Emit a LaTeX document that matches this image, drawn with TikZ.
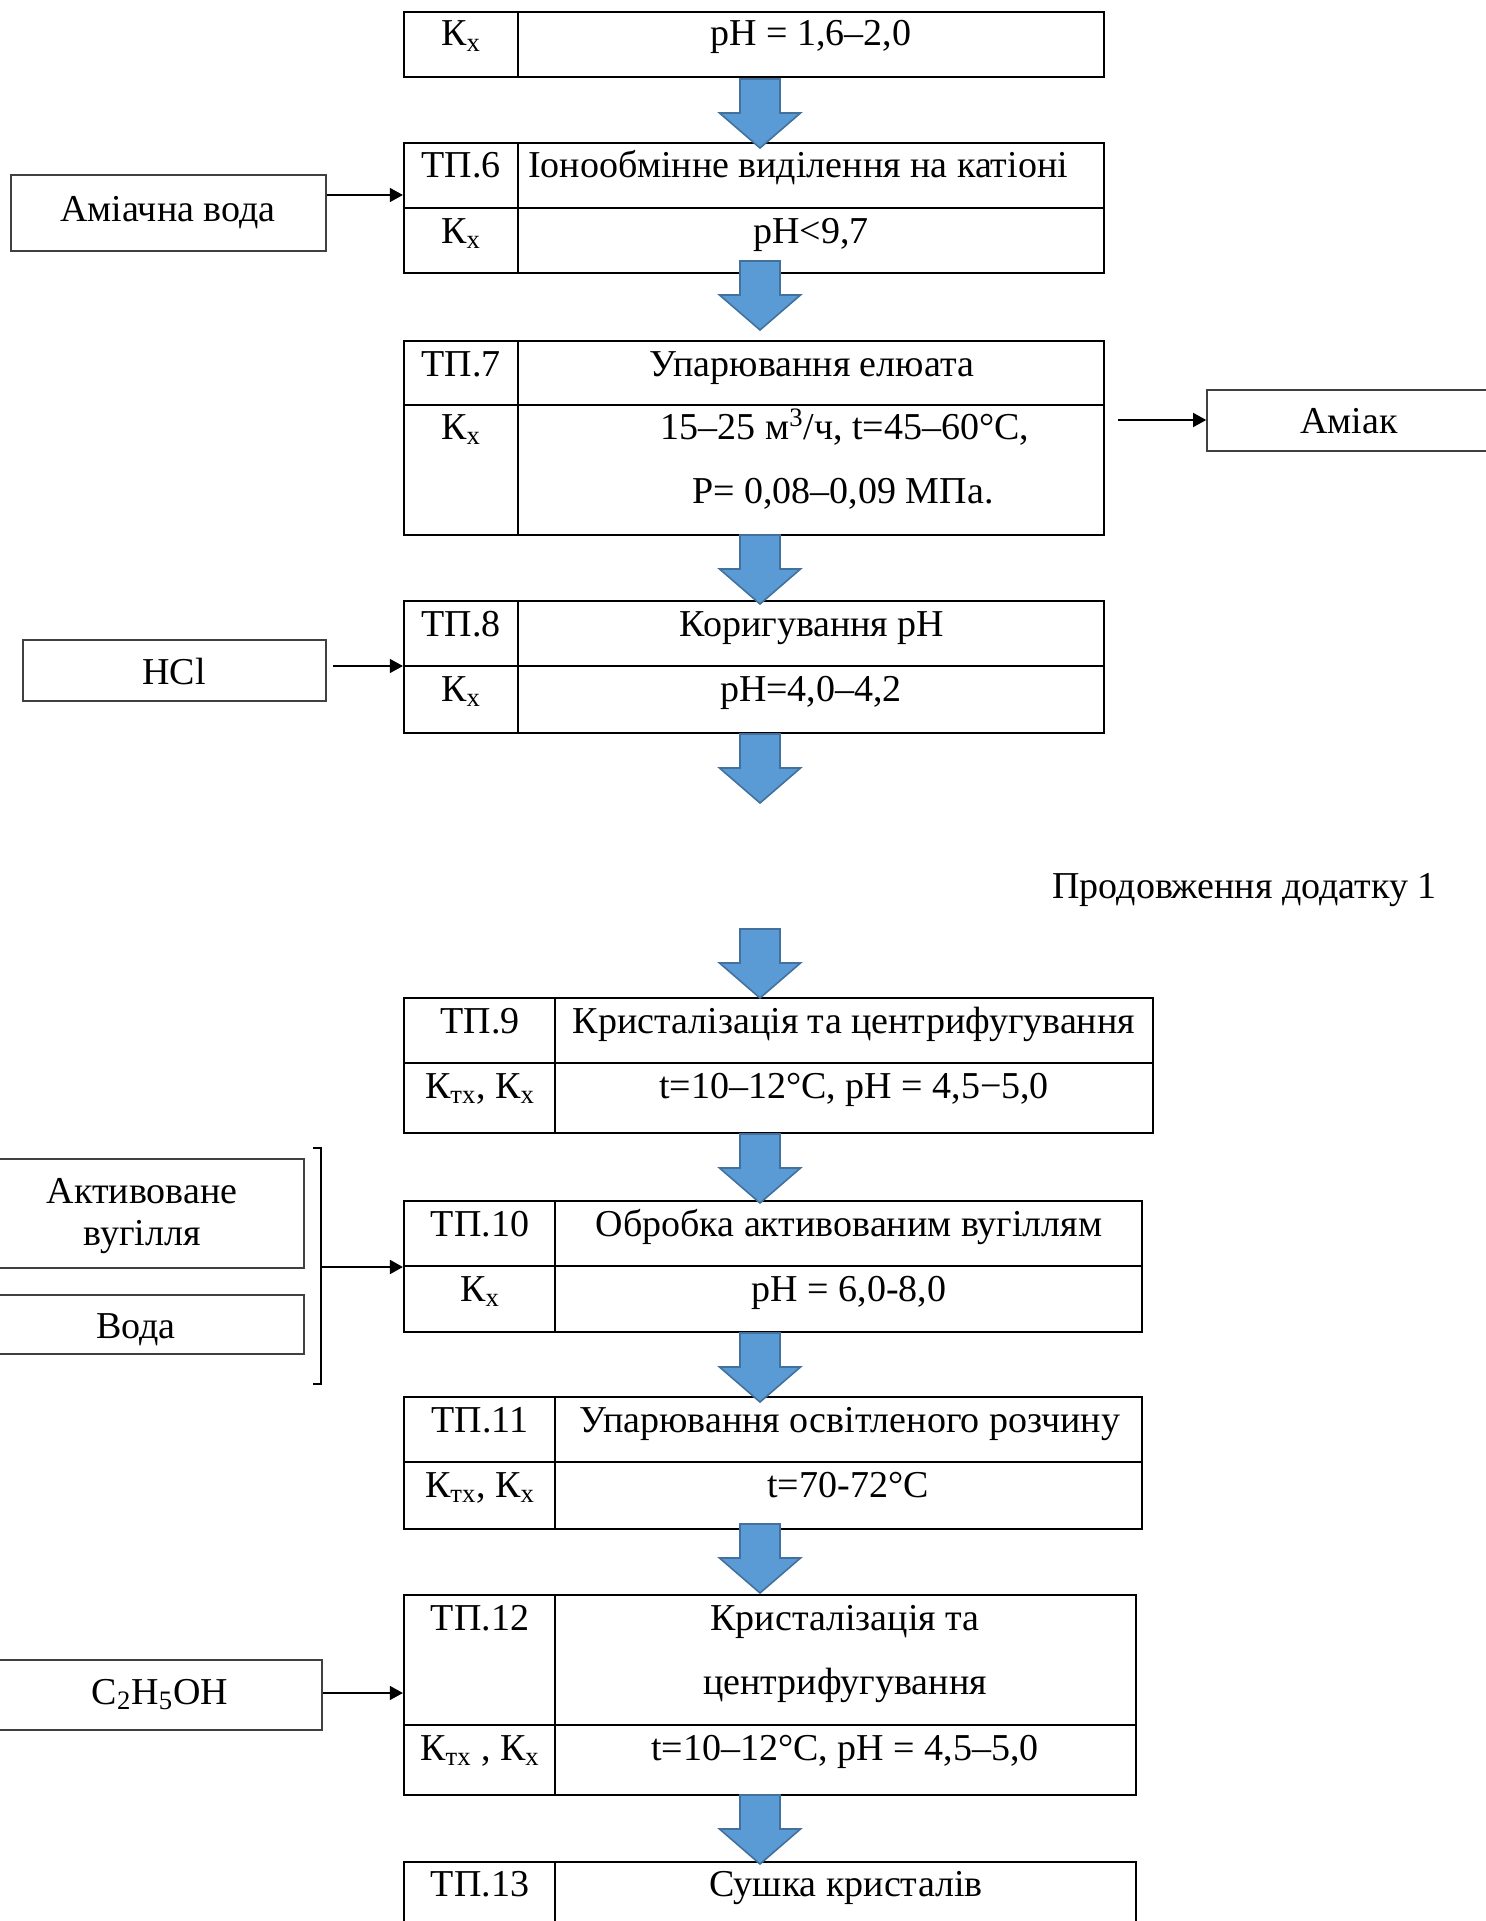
\documentclass[tikz,border=0pt]{standalone}
\usepackage{fontspec}
\setmainfont{Liberation Serif}
\usetikzlibrary{arrows.meta,calc,fit}
\definecolor{arrfill}{RGB}{91,155,213}
\definecolor{arrline}{RGB}{65,113,156}
\begin{document}
\begin{tikzpicture}[x=0.5pt,y=-0.5pt,
  tbl/.style={draw=black, line width=1.1pt, inner sep=0pt},
  tline/.style={draw=black, line width=1.1pt},
  sbox/.style={draw=black!75, line width=0.8pt, inner sep=0pt},
  txt/.style={anchor=base, inner sep=0pt, font=\fontsize{19}{22}\selectfont},
  sarr/.style={-{Triangle[length=6.5pt,width=7pt]}, line width=0.6pt},
  barr/.style={-{Triangle[length=6.5pt,width=7pt]}, line width=1pt},
  blockarrow/.pic={\filldraw[fill=arrfill,draw=arrline,line width=0.8pt]
     (-20,0) -- (20,0) -- (20,34) -- (40.5,34) -- (0,69) -- (-40.5,34) -- (-20,34) -- cycle;}
]
\useasboundingbox (0,0) rectangle (1486,1921);
\clip (0,0) rectangle (1486,1921);

% ---------- table 1 (continued) ----------
\node[tbl, fit={(404,12)(1104,77)}] (t5) {};
\draw[tline] (518,12) -- (518,77);
\node[txt] (t5a) at (461,46) {К\textsubscript{х}};
\node[txt] (t5b) at (811,46) {pH = 1,6–2,0};

% ---------- TP.6 ----------
\node[tbl, fit={(404,143)(1104,273)}] (t6) {};
\draw[tline] (518,143) -- (518,273) (404,208) -- (1104,208);
\node[txt] (t6a) at (461,178) {ТП.6};
\node[txt] (t6b) at (798,178) {Іонообмінне виділення на катіоні};
\node[txt] (t6c) at (461,243) {К\textsubscript{х}};
\node[txt] (t6d) at (811,243) {pH<9,7};

% ---------- TP.7 ----------
\node[tbl, fit={(404,341)(1104,535)}] (t7) {};
\draw[tline] (518,341) -- (518,535) (404,405) -- (1104,405);
\node[txt] (t7a) at (461,376) {ТП.7};
\node[txt] (t7b) at (812,376) {Упарювання елюата};
\node[txt] (t7c) at (461,439) {К\textsubscript{х}};
\node[txt] (t7d) at (845,439) {15–25 м\textsuperscript{3}/ч, t=45–60°C,};
\node[txt] (t7e) at (843,503) {P= 0,08–0,09 МПа.};

% ---------- TP.8 ----------
\node[tbl, fit={(404,601)(1104,733)}] (t8) {};
\draw[tline] (518,601) -- (518,733) (404,666) -- (1104,666);
\node[txt] (t8a) at (461,636) {ТП.8};
\node[txt] (t8b) at (812,636) {Коригування pH};
\node[txt] (t8c) at (461,701) {К\textsubscript{х}};
\node[txt] (t8d) at (811,701) {pH=4,0–4,2};

% ---------- heading ----------
\node[txt, anchor=base east] (cont) at (1437,898) {Продовження додатку 1};

% ---------- TP.9 ----------
\node[tbl, fit={(404,998)(1153,1133)}] (t9) {};
\draw[tline] (555,998) -- (555,1133) (404,1063) -- (1153,1063);
\node[txt] (t9a) at (480,1033) {ТП.9};
\node[txt] (t9b) at (854,1033) {Кристалізація та центрифугування};
\node[txt] (t9c) at (480,1098) {К\textsubscript{тх}, К\textsubscript{х}};
\node[txt] (t9d) at (854,1098) {t=10–12°C, pH = 4,5−5,0};

% ---------- TP.10 ----------
\node[tbl, fit={(404,1201)(1142,1332)}] (t10) {};
\draw[tline] (555,1201) -- (555,1332) (404,1266) -- (1142,1266);
\node[txt] (t10a) at (480,1236) {ТП.10};
\node[txt] (t10b) at (849,1236) {Обробка активованим вугіллям};
\node[txt] (t10c) at (480,1301) {К\textsubscript{х}};
\node[txt] (t10d) at (849,1301) {pH = 6,0-8,0};

% ---------- TP.11 ----------
\node[tbl, fit={(404,1397)(1142,1529)}] (t11) {};
\draw[tline] (555,1397) -- (555,1529) (404,1462) -- (1142,1462);
\node[txt] (t11a) at (480,1432) {ТП.11};
\node[txt] (t11b) at (850,1432) {Упарювання освітленого розчину};
\node[txt] (t11c) at (480,1497) {К\textsubscript{тх}, К\textsubscript{х}};
\node[txt] (t11d) at (848,1497) {t=70-72°C};

% ---------- TP.12 ----------
\node[tbl, fit={(404,1595)(1136,1795)}] (t12) {};
\draw[tline] (555,1595) -- (555,1795) (404,1725) -- (1136,1725);
\node[txt] (t12a) at (480,1630) {ТП.12};
\node[txt] (t12b) at (845,1630) {Кристалізація та};
\node[txt] (t12c) at (845,1694) {центрифугування};
\node[txt] (t12d) at (480,1760) {К\textsubscript{тх} , К\textsubscript{х}};
\node[txt] (t12e) at (845,1760) {t=10–12°C, pH = 4,5–5,0};

% ---------- TP.13 ----------
\node[tbl, fit={(404,1862)(1136,1960)}] (t13) {};
\draw[tline] (555,1862) -- (555,1960);
\node[txt] (t13a) at (480,1896) {ТП.13};
\node[txt] (t13b) at (846,1896) {Сушка кристалів};

% ---------- side boxes ----------
\node[sbox, fit={(11,175)(326,251)}] (amw) {};
\node[txt] (amwt) at (168,221) {Аміачна вода};
\node[sbox, fit={(1207,390)(1495,451)}] (amk) {};
\node[txt] (amkt) at (1349,433) {Аміак};
\node[sbox, fit={(23,640)(326,701)}] (hcl) {};
\node[txt] (hclt) at (174,684) {HCl};
\node[sbox, fit={(-20,1159)(304,1268)}] (act) {};
\node[txt] (actt1) at (142,1203) {Активоване};
\node[txt] (actt2) at (142,1245) {вугілля};
\node[sbox, fit={(-20,1295)(304,1354)}] (vod) {};
\node[txt] (vodt) at (136,1338) {Вода};
\node[sbox, fit={(-20,1660)(322,1730)}] (c2) {};
\node[txt] (c2t) at (160,1704) {C\textsubscript{2}H\textsubscript{5}OH};

% ---------- side connectors ----------
\coordinate (y6) at (0,195);
\coordinate (y7) at (0,420);
\coordinate (y8) at (0,666);
\coordinate (y12) at (0,1693);
\draw[sarr] (amw.east |- y6) -- (t6.west |- y6);
\draw[sarr] ($(t7.east |- y7)+(13,0)$) -- (amk.west |- y7);
\draw[sarr] ($(hcl.east |- y8)+(6,0)$) -- (t8.west |- y8);
\draw[sarr] (c2.east |- y12) -- (t12.west |- y12);
% bracket joining the two inputs of TP.10
\draw[line width=1pt] (313,1148) -- (321,1148) -- (321,1384) -- (313,1384);
\coordinate (br) at (321,1267);
\draw[barr] (br) -- (t10.west |- br);

% ---------- block arrows ----------
\pic at (760,79) {blockarrow};
\pic at (760,261) {blockarrow};
\pic at (760,535) {blockarrow};
\pic at (760,734) {blockarrow};
\pic at (760,929) {blockarrow};
\pic at (760,1134) {blockarrow};
\pic at (760,1333) {blockarrow};
\pic at (760,1524) {blockarrow};
\pic at (760,1795) {blockarrow};
\end{tikzpicture}
\end{document}
